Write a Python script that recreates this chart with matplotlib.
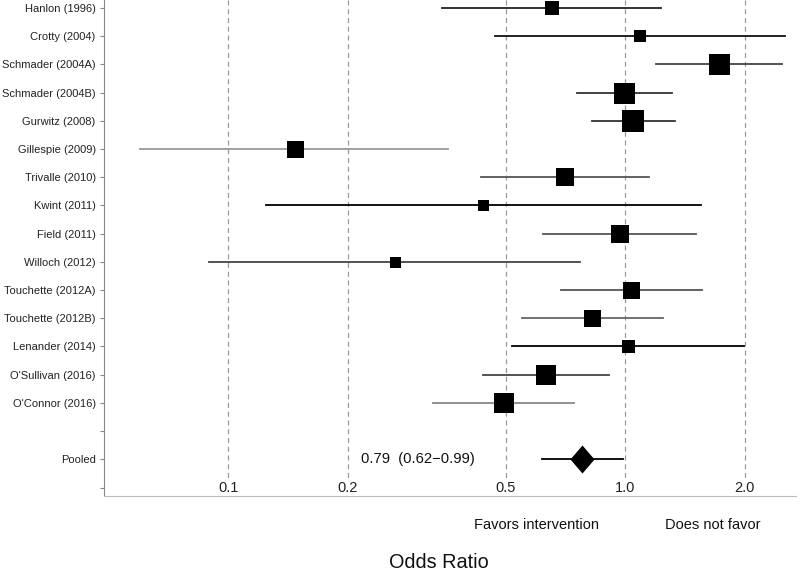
import numpy as np
import matplotlib
matplotlib.use("Agg")
import matplotlib.pyplot as plt
from matplotlib.path import Path

plt.rcParams['font.family'] = ['Liberation Sans', 'DejaVu Sans']

############################
studies = ["Hanlon (1996)", "Crotty (2004)", "Schmader (2004A)", "Schmader (2004B)",
           "Gurwitz (2008)", "Gillespie (2009)", "Trivalle (2010)", "Kwint (2011)",
           "Field (2011)", "Willoch (2012)", "Touchette (2012A)", "Touchette (2012B)",
           "Lenander (2014)", "O'Sullivan (2016)", "O'Connor (2016)"]
odds = [0.653, 1.087, 1.72, 0.993, 1.045, 0.147, 0.705, 0.439, 0.968, 0.263,
        1.036, 0.826, 1.018, 0.632, 0.495]
lower = [0.346, 0.470, 1.197, 0.755, 0.823, 0.060, 0.433, 0.1245, 0.622, 0.0896,
         0.688, 0.550, 0.518, 0.439, 0.3285]
upper = [1.23, 2.53, 2.48, 1.31, 1.334, 0.357, 1.146, 1.551, 1.507, 0.769,
         1.563, 1.243, 1.99, 0.910, 0.744]
# marker sizes (relative weight), in pixels as seen
weights = [14, 12, 21, 21, 23, 17, 18, 11, 18, 11, 17, 17, 13, 20, 20]
line_colors = ["#222222", "#111111", "#444444", "#333333", "#333333", "#999999", "#555555",
               "#000000", "#555555", "#444444", "#555555", "#666666", "#000000", "#444444",
               "#888888"]
pooled_or = 0.778
pooled_lo = 0.618
pooled_hi = 0.985
pooled_label = "0.79  (0.62\u22120.99)"
xticks = [0.1, 0.2, 0.5, 1.0, 2.0]
xticklabels = ["0.1", "0.2", "0.5", "1.0", "2.0"]
############################

fig = plt.figure(figsize=(8, 5.73), dpi=100)
ax = fig.add_axes([0.13, 0.1344, 0.865, 0.8656])

n = len(studies)
rows = np.arange(n)
pooled_row = n + 1

# reference lines
ax.vlines(xticks, -0.3, 16.65, colors="#9a9a9a", linestyles=(0, (4, 3)), linewidth=0.9, zorder=1)

for i in range(n):
    ax.plot([lower[i], upper[i]], [rows[i], rows[i]], color=line_colors[i], lw=1.3, zorder=2)
    ax.plot(odds[i], rows[i], marker="s", ms=weights[i] * 0.72, color="black", mew=0, zorder=3)

# pooled estimate
diamond = Path([(0, 1), (0.86, 0), (0, -1), (-0.86, 0), (0, 1)])
ax.plot([pooled_lo, pooled_hi], [pooled_row, pooled_row], color="black", lw=1.3, zorder=2)
ax.plot(pooled_or, pooled_row, marker=diamond, ms=28 * 0.72, color="black", mew=0, zorder=3)
ax.text(0.216, pooled_row, pooled_label, ha="left", va="center", fontsize=10.6, color="#111111")

ax.set_xscale("log")
ax.set_xlim(0.0487, 2.69)
ax.set_ylim(17.3, -0.284)

ax.set_xticks(xticks)
ax.set_xticklabels(xticklabels, fontsize=10.5, color="#222222")
ax.xaxis.set_minor_locator(matplotlib.ticker.NullLocator())
ax.tick_params(axis="x", length=0, pad=-11)

ylabels = studies + ["", "Pooled", ""]
ax.set_yticks(np.arange(len(ylabels)))
ax.set_yticklabels(ylabels, fontsize=8, color="#222222")
ax.tick_params(axis="y", length=3, width=0.8, color="#888888", pad=3)

for s in ["top", "right"]:
    ax.spines[s].set_visible(False)
ax.spines["left"].set_color("#888888")
ax.spines["bottom"].set_color("#bbbbbb")

fig.text(537 / 800, 1 - 525 / 573, "Favors intervention", ha="center", va="center", fontsize=10.5, color="#111111")
fig.text(713 / 800, 1 - 525 / 573, "Does not favor", ha="center", va="center", fontsize=10.5, color="#111111")
fig.text(439 / 800, 1 - 563 / 573, "Odds Ratio", ha="center", va="center", fontsize=14.3, color="#111111")

fig.savefig("out.png", dpi=100)
